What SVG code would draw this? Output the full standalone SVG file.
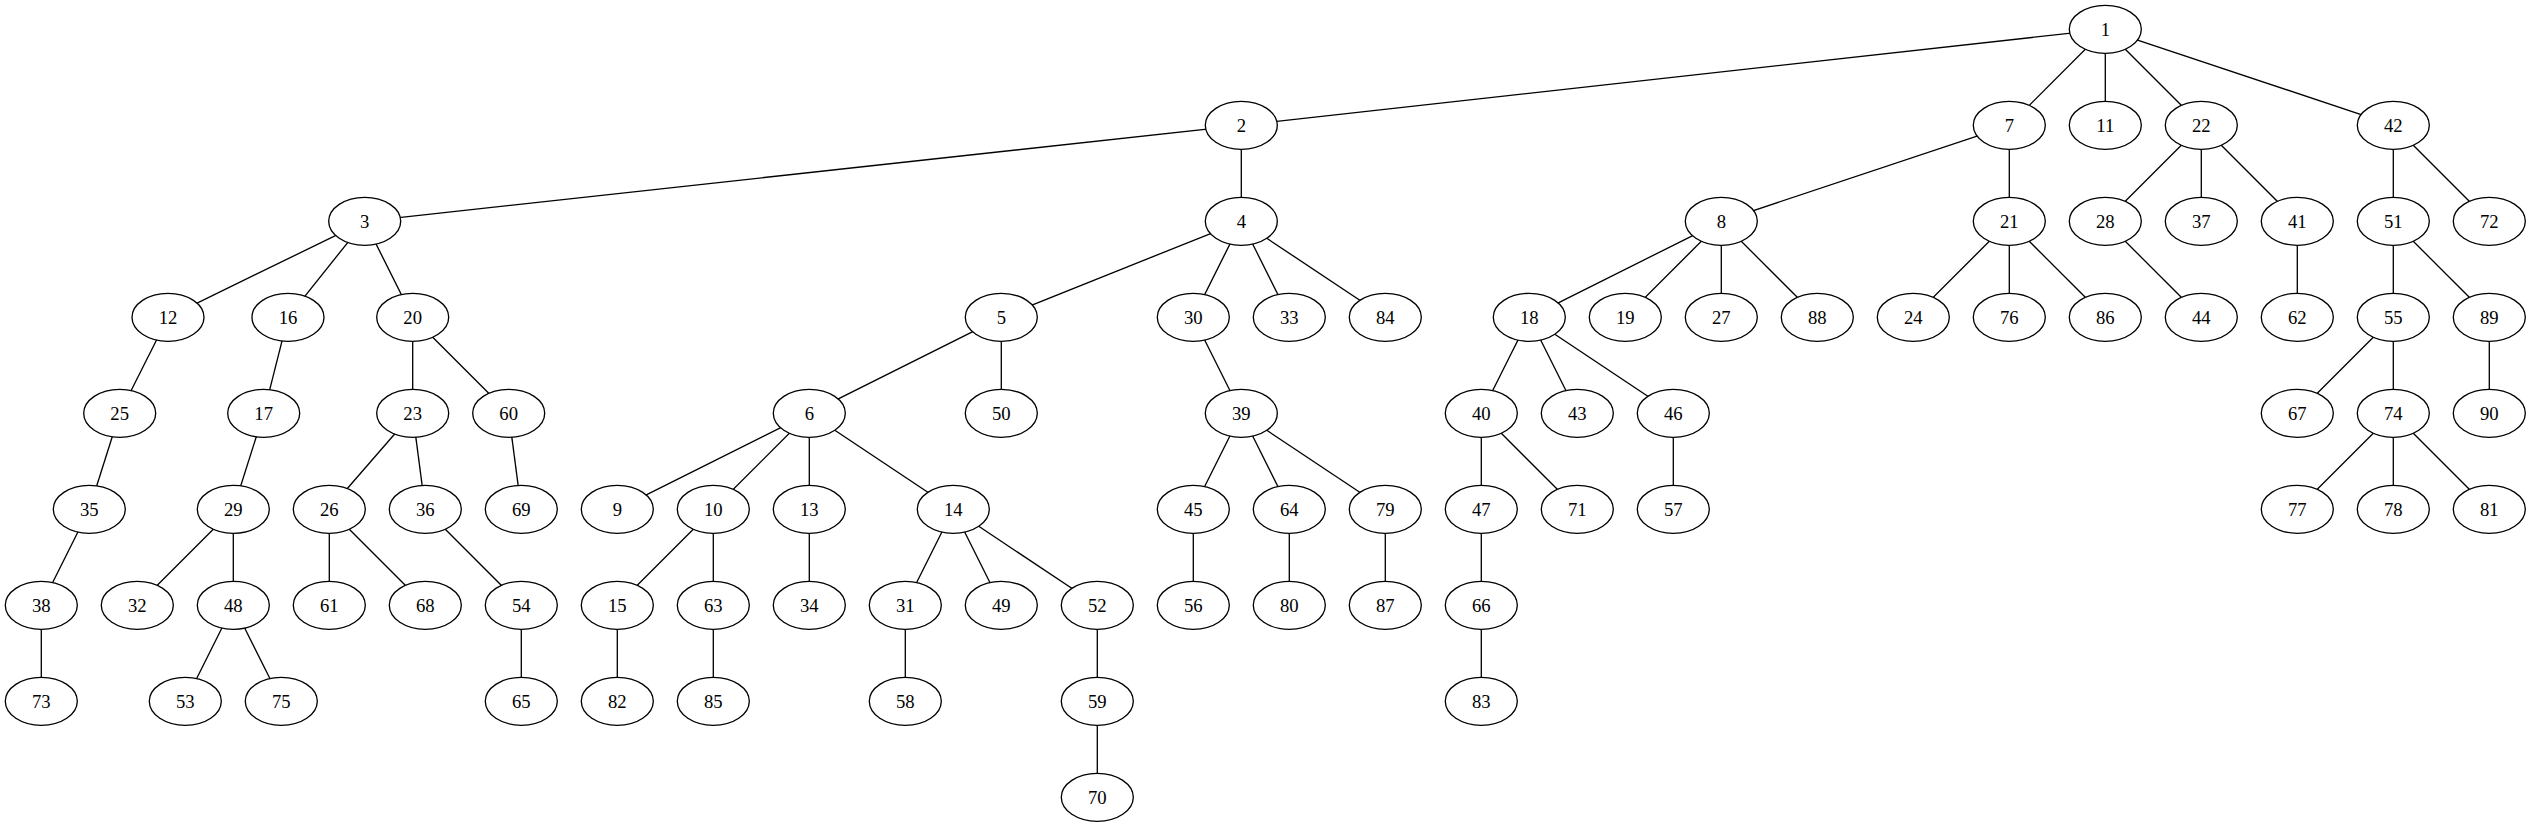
<svg xmlns="http://www.w3.org/2000/svg" width="2531" height="827" viewBox="0 0 2531 827">
<style>
.n ellipse{fill:#fff;stroke:#000;stroke-width:1.33}
.n text{font-family:"Liberation Serif","Times New Roman",serif;font-size:18.67px;text-anchor:middle;fill:#000}
#edges line{stroke:#000;stroke-width:1.33}
</style>
<rect width="2531" height="827" fill="#fff"/>
<g id="edges">
<line x1="2105.3" y1="29.3" x2="1241.3" y2="125.3"/>
<line x1="2105.3" y1="29.3" x2="2009.3" y2="125.3"/>
<line x1="2105.3" y1="29.3" x2="2105.3" y2="125.3"/>
<line x1="2105.3" y1="29.3" x2="2201.3" y2="125.3"/>
<line x1="2105.3" y1="29.3" x2="2393.3" y2="125.3"/>
<line x1="1241.3" y1="125.3" x2="364.7" y2="221.3"/>
<line x1="1241.3" y1="125.3" x2="1241.3" y2="221.3"/>
<line x1="364.7" y1="221.3" x2="168" y2="317.3"/>
<line x1="364.7" y1="221.3" x2="288" y2="317.3"/>
<line x1="364.7" y1="221.3" x2="412.7" y2="317.3"/>
<line x1="1241.3" y1="221.3" x2="1001.3" y2="317.3"/>
<line x1="1241.3" y1="221.3" x2="1193.3" y2="317.3"/>
<line x1="1241.3" y1="221.3" x2="1289.3" y2="317.3"/>
<line x1="1241.3" y1="221.3" x2="1385.3" y2="317.3"/>
<line x1="2009.3" y1="125.3" x2="1721.3" y2="221.3"/>
<line x1="2009.3" y1="125.3" x2="2009.3" y2="221.3"/>
<line x1="2201.3" y1="125.3" x2="2105.3" y2="221.3"/>
<line x1="2201.3" y1="125.3" x2="2201.3" y2="221.3"/>
<line x1="2201.3" y1="125.3" x2="2297.3" y2="221.3"/>
<line x1="2393.3" y1="125.3" x2="2393.3" y2="221.3"/>
<line x1="2393.3" y1="125.3" x2="2489.3" y2="221.3"/>
<line x1="168" y1="317.3" x2="119.7" y2="413.3"/>
<line x1="288" y1="317.3" x2="263.7" y2="413.3"/>
<line x1="412.7" y1="317.3" x2="412.7" y2="413.3"/>
<line x1="412.7" y1="317.3" x2="508.7" y2="413.3"/>
<line x1="1001.3" y1="317.3" x2="809.3" y2="413.3"/>
<line x1="1001.3" y1="317.3" x2="1001.3" y2="413.3"/>
<line x1="1193.3" y1="317.3" x2="1241.3" y2="413.3"/>
<line x1="1721.3" y1="221.3" x2="1529.3" y2="317.3"/>
<line x1="1721.3" y1="221.3" x2="1625.3" y2="317.3"/>
<line x1="1721.3" y1="221.3" x2="1721.3" y2="317.3"/>
<line x1="1721.3" y1="221.3" x2="1817.3" y2="317.3"/>
<line x1="2009.3" y1="221.3" x2="1913.3" y2="317.3"/>
<line x1="2009.3" y1="221.3" x2="2009.3" y2="317.3"/>
<line x1="2009.3" y1="221.3" x2="2105.3" y2="317.3"/>
<line x1="2105.3" y1="221.3" x2="2201.3" y2="317.3"/>
<line x1="2297.3" y1="221.3" x2="2297.3" y2="317.3"/>
<line x1="2393.3" y1="221.3" x2="2393.3" y2="317.3"/>
<line x1="2393.3" y1="221.3" x2="2489.3" y2="317.3"/>
<line x1="119.7" y1="413.3" x2="89.3" y2="509.3"/>
<line x1="263.7" y1="413.3" x2="233.3" y2="509.3"/>
<line x1="412.7" y1="413.3" x2="329.3" y2="509.3"/>
<line x1="412.7" y1="413.3" x2="425.3" y2="509.3"/>
<line x1="508.7" y1="413.3" x2="521.3" y2="509.3"/>
<line x1="809.3" y1="413.3" x2="617.3" y2="509.3"/>
<line x1="809.3" y1="413.3" x2="713.3" y2="509.3"/>
<line x1="809.3" y1="413.3" x2="809.3" y2="509.3"/>
<line x1="809.3" y1="413.3" x2="953.3" y2="509.3"/>
<line x1="1241.3" y1="413.3" x2="1193.3" y2="509.3"/>
<line x1="1241.3" y1="413.3" x2="1289.3" y2="509.3"/>
<line x1="1241.3" y1="413.3" x2="1385.3" y2="509.3"/>
<line x1="1529.3" y1="317.3" x2="1481.3" y2="413.3"/>
<line x1="1529.3" y1="317.3" x2="1577.3" y2="413.3"/>
<line x1="1529.3" y1="317.3" x2="1673.3" y2="413.3"/>
<line x1="2393.3" y1="317.3" x2="2297.3" y2="413.3"/>
<line x1="2393.3" y1="317.3" x2="2393.3" y2="413.3"/>
<line x1="2489.3" y1="317.3" x2="2489.3" y2="413.3"/>
<line x1="89.3" y1="509.3" x2="41.3" y2="605.3"/>
<line x1="233.3" y1="509.3" x2="137.3" y2="605.3"/>
<line x1="233.3" y1="509.3" x2="233.3" y2="605.3"/>
<line x1="329.3" y1="509.3" x2="329.3" y2="605.3"/>
<line x1="329.3" y1="509.3" x2="425.3" y2="605.3"/>
<line x1="425.3" y1="509.3" x2="521.3" y2="605.3"/>
<line x1="713.3" y1="509.3" x2="617.3" y2="605.3"/>
<line x1="713.3" y1="509.3" x2="713.3" y2="605.3"/>
<line x1="809.3" y1="509.3" x2="809.3" y2="605.3"/>
<line x1="953.3" y1="509.3" x2="905.3" y2="605.3"/>
<line x1="953.3" y1="509.3" x2="1001.3" y2="605.3"/>
<line x1="953.3" y1="509.3" x2="1097.3" y2="605.3"/>
<line x1="1193.3" y1="509.3" x2="1193.3" y2="605.3"/>
<line x1="1289.3" y1="509.3" x2="1289.3" y2="605.3"/>
<line x1="1385.3" y1="509.3" x2="1385.3" y2="605.3"/>
<line x1="1481.3" y1="413.3" x2="1481.3" y2="509.3"/>
<line x1="1481.3" y1="413.3" x2="1577.3" y2="509.3"/>
<line x1="1673.3" y1="413.3" x2="1673.3" y2="509.3"/>
<line x1="2393.3" y1="413.3" x2="2297.3" y2="509.3"/>
<line x1="2393.3" y1="413.3" x2="2393.3" y2="509.3"/>
<line x1="2393.3" y1="413.3" x2="2489.3" y2="509.3"/>
<line x1="41.3" y1="605.3" x2="41.3" y2="701.3"/>
<line x1="233.3" y1="605.3" x2="185.3" y2="701.3"/>
<line x1="233.3" y1="605.3" x2="281.3" y2="701.3"/>
<line x1="521.3" y1="605.3" x2="521.3" y2="701.3"/>
<line x1="617.3" y1="605.3" x2="617.3" y2="701.3"/>
<line x1="713.3" y1="605.3" x2="713.3" y2="701.3"/>
<line x1="905.3" y1="605.3" x2="905.3" y2="701.3"/>
<line x1="1097.3" y1="605.3" x2="1097.3" y2="701.3"/>
<line x1="1481.3" y1="509.3" x2="1481.3" y2="605.3"/>
<line x1="1481.3" y1="605.3" x2="1481.3" y2="701.3"/>
<line x1="1097.3" y1="701.3" x2="1097.3" y2="797.3"/>
</g>
<g id="n1" class="n"><ellipse cx="2105.3" cy="29.3" rx="36" ry="24"/><text x="2105.3" y="35.8">1</text></g>
<g id="n2" class="n"><ellipse cx="1241.3" cy="125.3" rx="36" ry="24"/><text x="1241.3" y="131.8">2</text></g>
<g id="n7" class="n"><ellipse cx="2009.3" cy="125.3" rx="36" ry="24"/><text x="2009.3" y="131.8">7</text></g>
<g id="n11" class="n"><ellipse cx="2105.3" cy="125.3" rx="36" ry="24"/><text x="2105.3" y="131.8">11</text></g>
<g id="n22" class="n"><ellipse cx="2201.3" cy="125.3" rx="36" ry="24"/><text x="2201.3" y="131.8">22</text></g>
<g id="n42" class="n"><ellipse cx="2393.3" cy="125.3" rx="36" ry="24"/><text x="2393.3" y="131.8">42</text></g>
<g id="n3" class="n"><ellipse cx="364.7" cy="221.3" rx="36" ry="24"/><text x="364.7" y="227.8">3</text></g>
<g id="n4" class="n"><ellipse cx="1241.3" cy="221.3" rx="36" ry="24"/><text x="1241.3" y="227.8">4</text></g>
<g id="n8" class="n"><ellipse cx="1721.3" cy="221.3" rx="36" ry="24"/><text x="1721.3" y="227.8">8</text></g>
<g id="n21" class="n"><ellipse cx="2009.3" cy="221.3" rx="36" ry="24"/><text x="2009.3" y="227.8">21</text></g>
<g id="n28" class="n"><ellipse cx="2105.3" cy="221.3" rx="36" ry="24"/><text x="2105.3" y="227.8">28</text></g>
<g id="n37" class="n"><ellipse cx="2201.3" cy="221.3" rx="36" ry="24"/><text x="2201.3" y="227.8">37</text></g>
<g id="n41" class="n"><ellipse cx="2297.3" cy="221.3" rx="36" ry="24"/><text x="2297.3" y="227.8">41</text></g>
<g id="n51" class="n"><ellipse cx="2393.3" cy="221.3" rx="36" ry="24"/><text x="2393.3" y="227.8">51</text></g>
<g id="n72" class="n"><ellipse cx="2489.3" cy="221.3" rx="36" ry="24"/><text x="2489.3" y="227.8">72</text></g>
<g id="n12" class="n"><ellipse cx="168" cy="317.3" rx="36" ry="24"/><text x="168" y="323.8">12</text></g>
<g id="n16" class="n"><ellipse cx="288" cy="317.3" rx="36" ry="24"/><text x="288" y="323.8">16</text></g>
<g id="n20" class="n"><ellipse cx="412.7" cy="317.3" rx="36" ry="24"/><text x="412.7" y="323.8">20</text></g>
<g id="n5" class="n"><ellipse cx="1001.3" cy="317.3" rx="36" ry="24"/><text x="1001.3" y="323.8">5</text></g>
<g id="n30" class="n"><ellipse cx="1193.3" cy="317.3" rx="36" ry="24"/><text x="1193.3" y="323.8">30</text></g>
<g id="n33" class="n"><ellipse cx="1289.3" cy="317.3" rx="36" ry="24"/><text x="1289.3" y="323.8">33</text></g>
<g id="n84" class="n"><ellipse cx="1385.3" cy="317.3" rx="36" ry="24"/><text x="1385.3" y="323.8">84</text></g>
<g id="n18" class="n"><ellipse cx="1529.3" cy="317.3" rx="36" ry="24"/><text x="1529.3" y="323.8">18</text></g>
<g id="n19" class="n"><ellipse cx="1625.3" cy="317.3" rx="36" ry="24"/><text x="1625.3" y="323.8">19</text></g>
<g id="n27" class="n"><ellipse cx="1721.3" cy="317.3" rx="36" ry="24"/><text x="1721.3" y="323.8">27</text></g>
<g id="n88" class="n"><ellipse cx="1817.3" cy="317.3" rx="36" ry="24"/><text x="1817.3" y="323.8">88</text></g>
<g id="n24" class="n"><ellipse cx="1913.3" cy="317.3" rx="36" ry="24"/><text x="1913.3" y="323.8">24</text></g>
<g id="n76" class="n"><ellipse cx="2009.3" cy="317.3" rx="36" ry="24"/><text x="2009.3" y="323.8">76</text></g>
<g id="n86" class="n"><ellipse cx="2105.3" cy="317.3" rx="36" ry="24"/><text x="2105.3" y="323.8">86</text></g>
<g id="n44" class="n"><ellipse cx="2201.3" cy="317.3" rx="36" ry="24"/><text x="2201.3" y="323.8">44</text></g>
<g id="n62" class="n"><ellipse cx="2297.3" cy="317.3" rx="36" ry="24"/><text x="2297.3" y="323.8">62</text></g>
<g id="n55" class="n"><ellipse cx="2393.3" cy="317.3" rx="36" ry="24"/><text x="2393.3" y="323.8">55</text></g>
<g id="n89" class="n"><ellipse cx="2489.3" cy="317.3" rx="36" ry="24"/><text x="2489.3" y="323.8">89</text></g>
<g id="n25" class="n"><ellipse cx="119.7" cy="413.3" rx="36" ry="24"/><text x="119.7" y="419.8">25</text></g>
<g id="n17" class="n"><ellipse cx="263.7" cy="413.3" rx="36" ry="24"/><text x="263.7" y="419.8">17</text></g>
<g id="n23" class="n"><ellipse cx="412.7" cy="413.3" rx="36" ry="24"/><text x="412.7" y="419.8">23</text></g>
<g id="n60" class="n"><ellipse cx="508.7" cy="413.3" rx="36" ry="24"/><text x="508.7" y="419.8">60</text></g>
<g id="n6" class="n"><ellipse cx="809.3" cy="413.3" rx="36" ry="24"/><text x="809.3" y="419.8">6</text></g>
<g id="n50" class="n"><ellipse cx="1001.3" cy="413.3" rx="36" ry="24"/><text x="1001.3" y="419.8">50</text></g>
<g id="n39" class="n"><ellipse cx="1241.3" cy="413.3" rx="36" ry="24"/><text x="1241.3" y="419.8">39</text></g>
<g id="n40" class="n"><ellipse cx="1481.3" cy="413.3" rx="36" ry="24"/><text x="1481.3" y="419.8">40</text></g>
<g id="n43" class="n"><ellipse cx="1577.3" cy="413.3" rx="36" ry="24"/><text x="1577.3" y="419.8">43</text></g>
<g id="n46" class="n"><ellipse cx="1673.3" cy="413.3" rx="36" ry="24"/><text x="1673.3" y="419.8">46</text></g>
<g id="n67" class="n"><ellipse cx="2297.3" cy="413.3" rx="36" ry="24"/><text x="2297.3" y="419.8">67</text></g>
<g id="n74" class="n"><ellipse cx="2393.3" cy="413.3" rx="36" ry="24"/><text x="2393.3" y="419.8">74</text></g>
<g id="n90" class="n"><ellipse cx="2489.3" cy="413.3" rx="36" ry="24"/><text x="2489.3" y="419.8">90</text></g>
<g id="n35" class="n"><ellipse cx="89.3" cy="509.3" rx="36" ry="24"/><text x="89.3" y="515.8">35</text></g>
<g id="n29" class="n"><ellipse cx="233.3" cy="509.3" rx="36" ry="24"/><text x="233.3" y="515.8">29</text></g>
<g id="n26" class="n"><ellipse cx="329.3" cy="509.3" rx="36" ry="24"/><text x="329.3" y="515.8">26</text></g>
<g id="n36" class="n"><ellipse cx="425.3" cy="509.3" rx="36" ry="24"/><text x="425.3" y="515.8">36</text></g>
<g id="n69" class="n"><ellipse cx="521.3" cy="509.3" rx="36" ry="24"/><text x="521.3" y="515.8">69</text></g>
<g id="n9" class="n"><ellipse cx="617.3" cy="509.3" rx="36" ry="24"/><text x="617.3" y="515.8">9</text></g>
<g id="n10" class="n"><ellipse cx="713.3" cy="509.3" rx="36" ry="24"/><text x="713.3" y="515.8">10</text></g>
<g id="n13" class="n"><ellipse cx="809.3" cy="509.3" rx="36" ry="24"/><text x="809.3" y="515.8">13</text></g>
<g id="n14" class="n"><ellipse cx="953.3" cy="509.3" rx="36" ry="24"/><text x="953.3" y="515.8">14</text></g>
<g id="n45" class="n"><ellipse cx="1193.3" cy="509.3" rx="36" ry="24"/><text x="1193.3" y="515.8">45</text></g>
<g id="n64" class="n"><ellipse cx="1289.3" cy="509.3" rx="36" ry="24"/><text x="1289.3" y="515.8">64</text></g>
<g id="n79" class="n"><ellipse cx="1385.3" cy="509.3" rx="36" ry="24"/><text x="1385.3" y="515.8">79</text></g>
<g id="n47" class="n"><ellipse cx="1481.3" cy="509.3" rx="36" ry="24"/><text x="1481.3" y="515.8">47</text></g>
<g id="n71" class="n"><ellipse cx="1577.3" cy="509.3" rx="36" ry="24"/><text x="1577.3" y="515.8">71</text></g>
<g id="n57" class="n"><ellipse cx="1673.3" cy="509.3" rx="36" ry="24"/><text x="1673.3" y="515.8">57</text></g>
<g id="n77" class="n"><ellipse cx="2297.3" cy="509.3" rx="36" ry="24"/><text x="2297.3" y="515.8">77</text></g>
<g id="n78" class="n"><ellipse cx="2393.3" cy="509.3" rx="36" ry="24"/><text x="2393.3" y="515.8">78</text></g>
<g id="n81" class="n"><ellipse cx="2489.3" cy="509.3" rx="36" ry="24"/><text x="2489.3" y="515.8">81</text></g>
<g id="n38" class="n"><ellipse cx="41.3" cy="605.3" rx="36" ry="24"/><text x="41.3" y="611.8">38</text></g>
<g id="n32" class="n"><ellipse cx="137.3" cy="605.3" rx="36" ry="24"/><text x="137.3" y="611.8">32</text></g>
<g id="n48" class="n"><ellipse cx="233.3" cy="605.3" rx="36" ry="24"/><text x="233.3" y="611.8">48</text></g>
<g id="n61" class="n"><ellipse cx="329.3" cy="605.3" rx="36" ry="24"/><text x="329.3" y="611.8">61</text></g>
<g id="n68" class="n"><ellipse cx="425.3" cy="605.3" rx="36" ry="24"/><text x="425.3" y="611.8">68</text></g>
<g id="n54" class="n"><ellipse cx="521.3" cy="605.3" rx="36" ry="24"/><text x="521.3" y="611.8">54</text></g>
<g id="n15" class="n"><ellipse cx="617.3" cy="605.3" rx="36" ry="24"/><text x="617.3" y="611.8">15</text></g>
<g id="n63" class="n"><ellipse cx="713.3" cy="605.3" rx="36" ry="24"/><text x="713.3" y="611.8">63</text></g>
<g id="n34" class="n"><ellipse cx="809.3" cy="605.3" rx="36" ry="24"/><text x="809.3" y="611.8">34</text></g>
<g id="n31" class="n"><ellipse cx="905.3" cy="605.3" rx="36" ry="24"/><text x="905.3" y="611.8">31</text></g>
<g id="n49" class="n"><ellipse cx="1001.3" cy="605.3" rx="36" ry="24"/><text x="1001.3" y="611.8">49</text></g>
<g id="n52" class="n"><ellipse cx="1097.3" cy="605.3" rx="36" ry="24"/><text x="1097.3" y="611.8">52</text></g>
<g id="n56" class="n"><ellipse cx="1193.3" cy="605.3" rx="36" ry="24"/><text x="1193.3" y="611.8">56</text></g>
<g id="n80" class="n"><ellipse cx="1289.3" cy="605.3" rx="36" ry="24"/><text x="1289.3" y="611.8">80</text></g>
<g id="n87" class="n"><ellipse cx="1385.3" cy="605.3" rx="36" ry="24"/><text x="1385.3" y="611.8">87</text></g>
<g id="n66" class="n"><ellipse cx="1481.3" cy="605.3" rx="36" ry="24"/><text x="1481.3" y="611.8">66</text></g>
<g id="n73" class="n"><ellipse cx="41.3" cy="701.3" rx="36" ry="24"/><text x="41.3" y="707.8">73</text></g>
<g id="n53" class="n"><ellipse cx="185.3" cy="701.3" rx="36" ry="24"/><text x="185.3" y="707.8">53</text></g>
<g id="n75" class="n"><ellipse cx="281.3" cy="701.3" rx="36" ry="24"/><text x="281.3" y="707.8">75</text></g>
<g id="n65" class="n"><ellipse cx="521.3" cy="701.3" rx="36" ry="24"/><text x="521.3" y="707.8">65</text></g>
<g id="n82" class="n"><ellipse cx="617.3" cy="701.3" rx="36" ry="24"/><text x="617.3" y="707.8">82</text></g>
<g id="n85" class="n"><ellipse cx="713.3" cy="701.3" rx="36" ry="24"/><text x="713.3" y="707.8">85</text></g>
<g id="n58" class="n"><ellipse cx="905.3" cy="701.3" rx="36" ry="24"/><text x="905.3" y="707.8">58</text></g>
<g id="n59" class="n"><ellipse cx="1097.3" cy="701.3" rx="36" ry="24"/><text x="1097.3" y="707.8">59</text></g>
<g id="n83" class="n"><ellipse cx="1481.3" cy="701.3" rx="36" ry="24"/><text x="1481.3" y="707.8">83</text></g>
<g id="n70" class="n"><ellipse cx="1097.3" cy="797.3" rx="36" ry="24"/><text x="1097.3" y="803.8">70</text></g>
</svg>
